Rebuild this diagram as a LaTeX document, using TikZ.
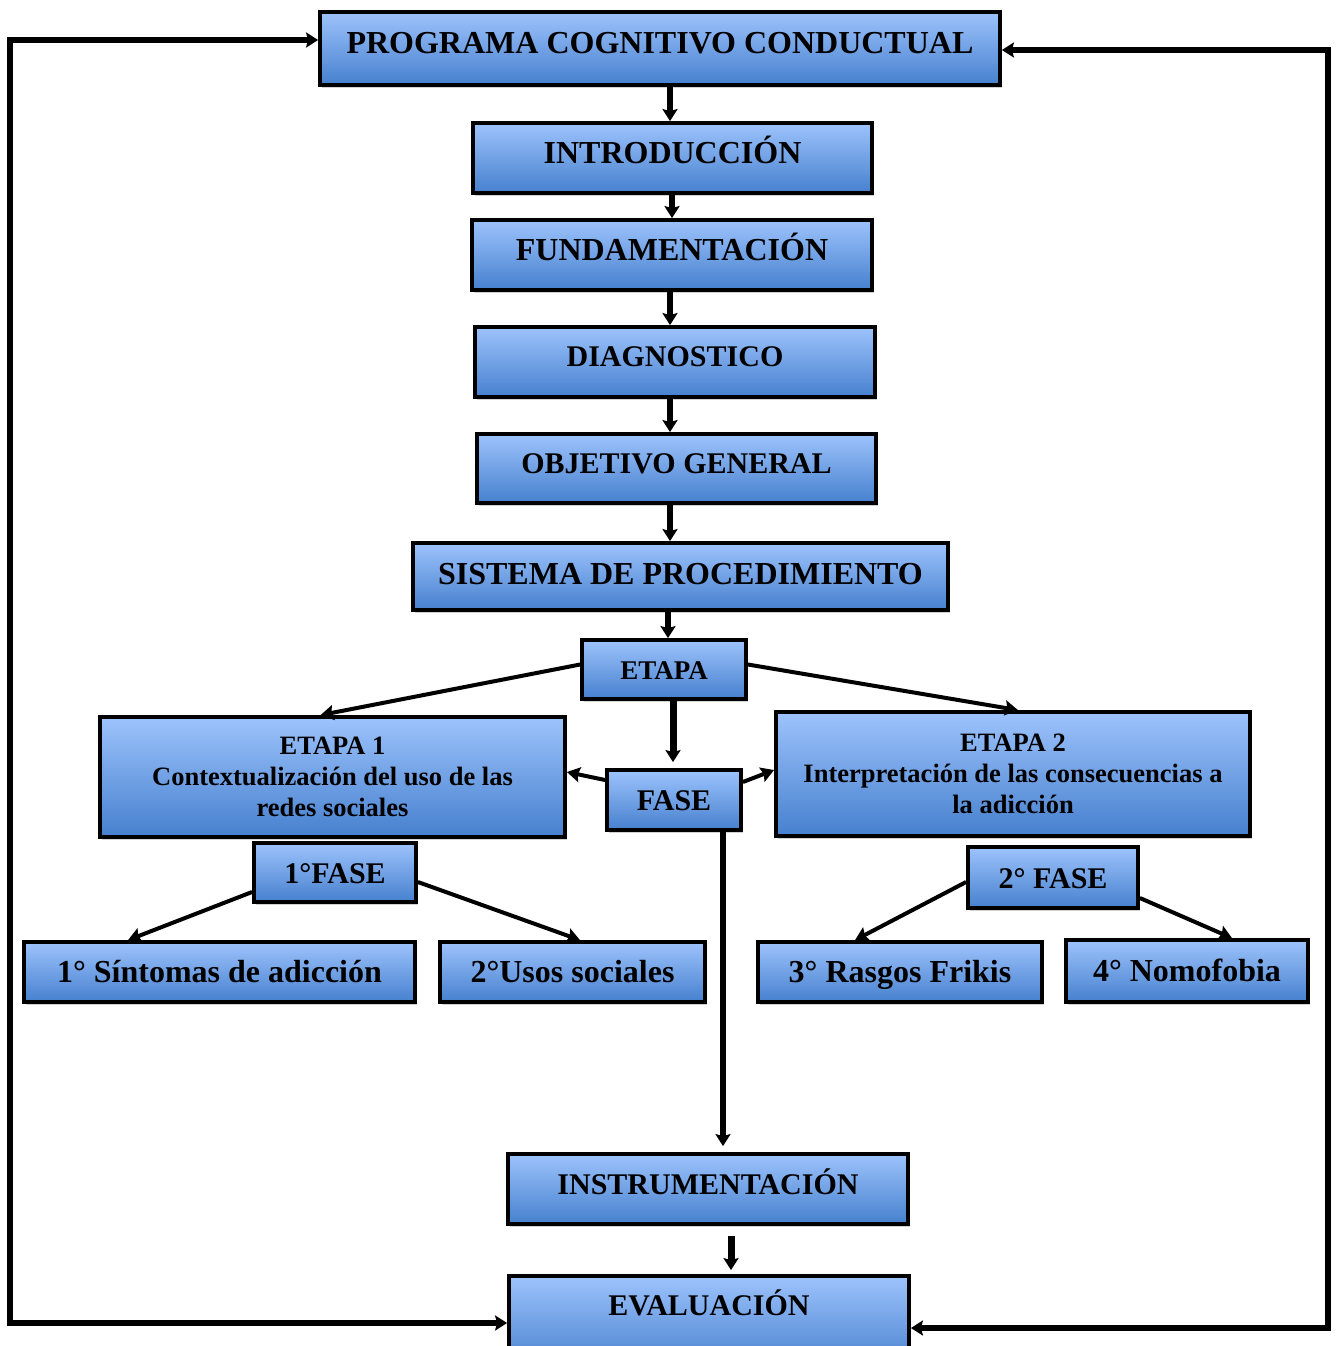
\documentclass[tikz,border=0pt]{standalone}
\usepackage{fontspec}
\setmainfont{Liberation Serif}
\usetikzlibrary{arrows.meta,shadows,calc}
\begin{document}
\begin{tikzpicture}[x=1pt,y=-1pt,
  box/.style={draw=black, line width=3.8pt, rectangle, inner sep=0pt, align=center,
    top color={rgb,255:red,157;green,195;blue,252}, bottom color={rgb,255:red,70;green,128;blue,206},
    font=\bfseries, drop shadow={opacity=0.35, shadow xshift=2pt, shadow yshift=-3pt}},
  up/.style={text height=21pt, text depth=#1},
  flat/.style={text height=21pt, text depth=0pt},
  conn/.style={line width=5.5pt, -{Stealth[length=12pt,width=15pt,inset=2pt]}},
  thin/.style={line width=4pt, -{Stealth[length=13pt,width=15pt,inset=2pt]}}]
\clip (0,0) rectangle (1338,1346);
\fill[white] (0,0) rectangle (1338,1346);
% boxes
\node[box, up=11pt, minimum width=680pt, minimum height=73pt, font=\bfseries\fontsize{32}{37}\selectfont] (prog) at (660,48.5) {PROGRAMA COGNITIVO CONDUCTUAL};
\node[box, up=11pt, minimum width=399pt, minimum height=70pt, font=\bfseries\fontsize{32}{37}\selectfont] (intro) at (672.5,158) {INTRODUCCIÓN};
\node[box, up=10pt, minimum width=400pt, minimum height=70pt, font=\bfseries\fontsize{32}{37}\selectfont] (fund) at (672,255) {FUNDAMENTACIÓN};
\node[box, up=12pt, minimum width=400pt, minimum height=70pt, font=\bfseries\fontsize{30}{35}\selectfont] (diag) at (675,362) {DIAGNOSTICO};
\node[box, up=11pt, minimum width=399pt, minimum height=69pt, font=\bfseries\fontsize{30}{35}\selectfont] (obj) at (676.5,468.5) {OBJETIVO GENERAL};
\node[box, up=5pt, minimum width=535pt, minimum height=67pt, font=\bfseries\fontsize{32}{37}\selectfont] (sist) at (680.5,576.5) {SISTEMA DE PROCEDIMIENTO};
\node[box, up=2pt, minimum width=164pt, minimum height=59pt, font=\bfseries\fontsize{27}{31}\selectfont] (etapa) at (664,669.5) {ETAPA};
\node[box, minimum width=465pt, minimum height=120pt, font=\bfseries\fontsize{26.5}{31}\selectfont] (etapa1) at (332.5,777) {ETAPA 1\\Contextualización del uso de las\\redes sociales};
\node[box, flat, minimum width=134pt, minimum height=60pt, font=\bfseries\fontsize{30}{35}\selectfont] (fase) at (674,800) {FASE};
\node[box, minimum width=474pt, minimum height=124pt, font=\bfseries\fontsize{26.5}{31}\selectfont] (etapa2) at (1013,774) {ETAPA 2\\Interpretación de las consecuencias a\\la adicción};
\node[box, flat, minimum width=162pt, minimum height=59pt, font=\bfseries\fontsize{30}{35}\selectfont] (fase1) at (335,872.5) {1°FASE};
\node[box, flat, minimum width=170pt, minimum height=61pt, font=\bfseries\fontsize{30}{35}\selectfont] (fase2) at (1053,877.5) {2° FASE};
\node[box, flat, minimum width=391pt, minimum height=60pt, font=\bfseries\fontsize{32}{37}\selectfont] (sint) at (219.5,972) {1° Síntomas de adicción};
\node[box, flat, minimum width=265pt, minimum height=60pt, font=\bfseries\fontsize{32}{37}\selectfont] (usos) at (572.5,972) {2°Usos sociales};
\node[box, flat, minimum width=284pt, minimum height=60pt, font=\bfseries\fontsize{32}{37}\selectfont] (rasg) at (900,972) {3° Rasgos Frikis};
\node[box, flat, minimum width=242pt, minimum height=62pt, font=\bfseries\fontsize{32}{37}\selectfont] (nomo) at (1187,971) {4° Nomofobia};
\node[box, up=11pt, minimum width=400pt, minimum height=70pt, font=\bfseries\fontsize{30}{35}\selectfont] (instr) at (708,1189) {INSTRUMENTACIÓN};
\node[box, up=36pt, minimum width=400pt, minimum height=94pt, font=\bfseries\fontsize{30}{35}\selectfont] (eval) at (709,1323) {EVALUACIÓN};
% vertical chain
\draw[conn] (prog.south -| 670,0) -- (intro.north -| 670,0);
\draw[conn] (intro.south -| 672,0) -- (fund.north -| 672,0);
\draw[conn] (fund.south -| 670,0) -- (diag.north -| 670,0);
\draw[conn] (diag.south -| 670,0) -- (obj.north -| 670,0);
\draw[conn] (obj.south -| 670,0) -- (sist.north -| 670,0);
\draw[conn] (sist.south -| 668,0) -- (etapa.north -| 668,0);
\draw[conn, line width=7pt] (etapa.south -| 673,0) -- ([yshift=6pt]fase.north -| 673,0);
% etapa branches
\draw[thin] ([yshift=5pt]etapa.west) -- ([xshift=-12pt]etapa1.north);
\draw[thin] ([yshift=5pt]etapa.east) -- ([xshift=5pt]etapa2.north);
\draw[thin] ([yshift=20pt]fase.west) -- ([yshift=5pt]etapa1.east);
\draw[thin] ([yshift=18pt]fase.east) -- ([yshift=4pt]etapa2.west);
% fase to instr
\draw[conn] (fase.south -| 723,0) -- ([yshift=6pt]instr.north -| 723,0);
\draw[conn, line width=7pt] ([yshift=-10pt]instr.south -| 731,0) -- ([yshift=4pt]eval.north -| 731,0);
% phases
\draw[thin] ([yshift=-19.5pt]fase1.west) -- ([xshift=-91.5pt]sint.north);
\draw[thin] ([yshift=-9.5pt]fase1.east) -- ([xshift=7.5pt]usos.north);
\draw[thin] ([yshift=-4.5pt]fase2.west) -- ([xshift=-45pt]rasg.north);
\draw[thin] ([yshift=-20.5pt]fase2.east) -- ([xshift=45pt]nomo.north);
% loops
\coordinate (lt) at (10,40);
\coordinate (lb) at (10,1323);
\coordinate (rt) at (1328,50);
\coordinate (rb) at (1328,1328);
\draw[line width=5.5pt, {Stealth[length=12pt,width=15pt,inset=2pt]}-{Stealth[length=12pt,width=15pt,inset=2pt]}]
  (eval.west) -- (lb) -- (lt) -- ([yshift=8.5pt]prog.west);
\draw[line width=5.5pt, {Stealth[length=12pt,width=15pt,inset=2pt]}-{Stealth[length=12pt,width=15pt,inset=2pt]}]
  ([yshift=-5pt]eval.east) -- (rb) -- (rt) -- ([yshift=-1.5pt]prog.east);
\end{tikzpicture}
\end{document}
